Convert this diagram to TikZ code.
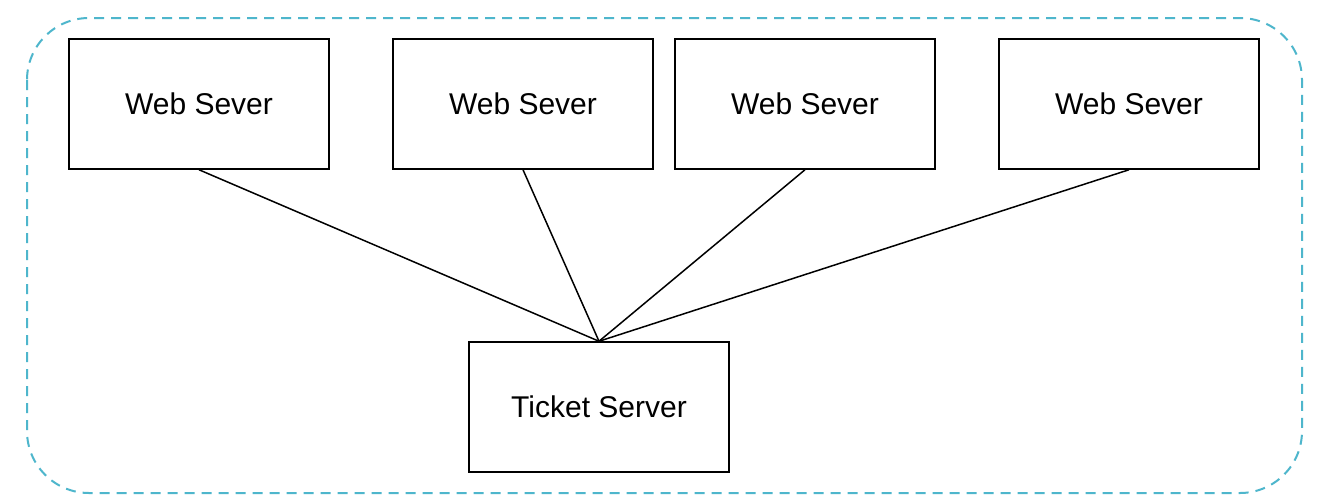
\documentclass[tikz,border=0pt]{standalone}
\usepackage{fontspec}
\setmainfont{Liberation Sans}
\definecolor{dashblue}{RGB}{78,182,204}
\begin{document}
\begin{tikzpicture}[x=1pt,y=-1pt,
  srv/.style={draw=black,line width=1.5pt,minimum width=260pt,minimum height=130pt,inner sep=0pt,font=\fontsize{30}{36}\selectfont},
  link/.style={draw=black,line width=1.5pt}]
\useasboundingbox[fill=white] (0,0) rectangle (1320,496);
\draw[dashblue,line width=2pt,dash pattern=on 10pt off 7pt,rounded corners=62pt] (27,18) rectangle (1302,493);
\node[srv] (w1) at (199,104) {Web Sever};
\node[srv] (w2) at (523,104) {Web Sever};
\node[srv] (w3) at (805,104) {Web Sever};
\node[srv] (w4) at (1129,104) {Web Sever};
\node[srv] (t) at (599,407) {Ticket Server};
\foreach \w in {w1,w2,w3,w4} \draw[link] (\w.south) -- (t.north);
\end{tikzpicture}
\end{document}
